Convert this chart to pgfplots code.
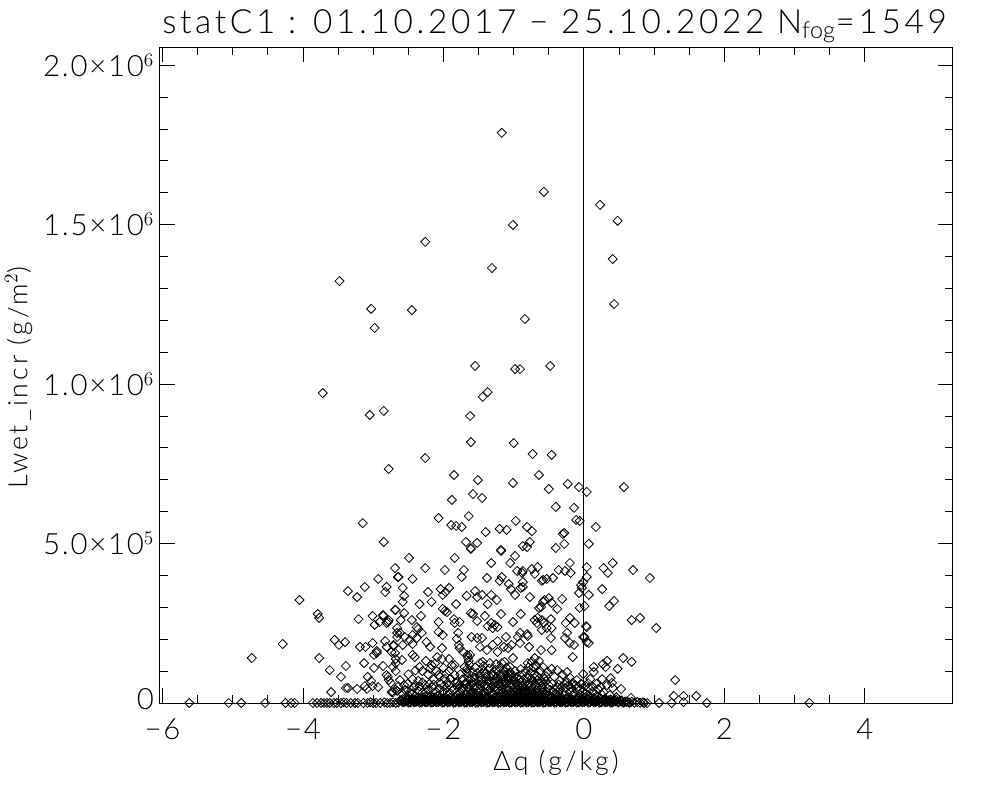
\documentclass[border=0pt]{standalone}
\usepackage{fontspec}
\setmainfont{Lato}[UprightFont=* Light,LetterSpace=6]
\newfontfamily\widefont{Lato}[UprightFont=* Light,LetterSpace=11]
\usepackage{pgfplots}
\pgfplotsset{compat=1.18}

\begin{document}
\begin{tikzpicture}
\path[use as bounding box] (-120pt,-72.75pt) rectangle (630pt,527.25pt);
\begin{axis}[
  scale only axis,
  width=594.4pt, height=491.75pt,
  xmin=-6.037, xmax=5.25,
  ymin=0, ymax=2056000,
  axis line style={line width=0.75pt},
  tick style={black,line width=0.7pt},
  major tick length=11pt,
  minor tick length=6pt,
  tick align=inside,
  xtick={-6,-4,-2,0,2,4},
  xticklabels={−6,−4,−2,0,2,4},
  minor x tick num=3,
  ytick={0,500000,1000000,1500000,2000000},
  yticklabels={\raisebox{6pt}{0},{5.0×10$^{5}$},{1.0×10$^{6}$},{1.5×10$^{6}$},{2.0×10$^{6}$}},
  minor y tick num=4,
  scaled ticks=false,
  tick label style={font=\fontsize{22}{24}\selectfont},
  xticklabel style={yshift=-8pt},
  yticklabel style={xshift=-1pt},
]
\addplot[black,line width=0.7pt] coordinates {(0,0) (0,2056000)};
\addplot[only marks,mark=square,mark size=2.4pt,mark options={rotate=45,line width=0.6pt,black}] coordinates {
(-1.82,2057e3)(-1.17,1788e3)(-0.57,1603e3)(0.23,1562e3)(0.48,1512e3)(-1.01,1499e3)(-2.26,1446e3)(0.41,1392e3)
(-1.31,1364e3)(-3.48,1323e3)(0.43,1251e3)(-3.03,1236e3)(-2.45,1232e3)(-2.98,1176e3)(-0.84,1204e3)(-1.55,1057e3)
(-0.48,1057e3)(-0.98,1047e3)(-0.91,1047e3)(-1.37,975e3)(-1.44,960e3)(-3.72,972e3)(-3.05,903e3)(-2.85,916e3)
(-1.62,900e3)(-1.61,818e3)(-1.00,815e3)(-0.73,781e3)(-0.46,778e3)(-2.26,768e3)(-2.78,734e3)(-1.85,715e3)
(-1.51,699e3)(-1.01,690e3)(-0.64,715e3)(-0.50,671e3)(-0.23,687e3)(-0.07,677e3)(0.04,662e3)(0.57,677e3)
(-1.58,655e3)(-1.45,643e3)(-1.88,637e3)(-0.40,615e3)(-0.14,612e3)(-2.07,580e3)(-1.64,586e3)(-1.89,558e3)
(-1.82,555e3)(-1.74,552e3)(-0.97,571e3)(-1.20,546e3)(-1.10,543e3)(-0.81,552e3)(-0.74,539e3)(-0.11,574e3)
(-0.06,571e3)(0.17,552e3)(-3.15,564e3)(-2.85,505e3)(-1.40,536e3)(-1.68,505e3)(-1.52,502e3)(-0.28,533e3)
(-0.30,530e3)(-0.28,499e3)(0.07,499e3)(-0.40,486e3)(-0.87,492e3)(-0.77,505e3)(-0.81,489e3)(-1.18,480e3)(-1.61,486e3)
(-2.69,423e3)(-2.65,395e3)(-2.93,389e3)(-3.12,364e3)(-3.36,351e3)(-3.23,332e3)(-2.81,364e3)(-2.83,348e3)
(-4.05,323e3)(-3.79,279e3)(-3.77,267e3)(-2.68,292e3)(-3.21,263e3)(-3.01,273e3)(-2.86,273e3)(-2.98,245e3)
(-2.91,254e3)(-2.78,260e3)(-2.81,251e3)(-2.66,235e3)(-2.66,220e3)(-2.66,207e3)(-4.29,185e3)(-4.73,141e3)
(-3.55,198e3)(-3.49,182e3)(-3.40,191e3)(-3.77,141e3)(-3.19,176e3)(-3.11,176e3)(-3.01,188e3)(-2.83,194e3)
(-2.95,163e3)(-2.95,157e3)(-2.99,151e3)(-2.81,176e3)(-2.74,160e3)(-2.71,182e3)(-3.13,125e3)(-3.62,103e3)
(-3.39,116e3)(-3.46,82e3)(-2.99,110e3)(-2.86,116e3)(-2.68,138e3)(-2.68,125e3)(-2.68,100e3)(-3.08,82e3)
(-3.03,69e3)(-2.81,88e3)(-2.79,82e3)(-2.78,72e3)(-2.75,63e3)(-3.60,34e3)(-3.39,47e3)(-3.36,47e3)(-3.23,44e3)
(-3.12,53e3)(-3.09,44e3)(-3.01,53e3)(-2.93,50e3)(-2.74,34e3)(-2.68,41e3)(-2.66,38e3)
(0.04,426e3)(0.28,423e3)(0.41,439e3)(0.34,408e3)(0.70,417e3)(0.94,392e3)(0.04,395e3)(-0.01,379e3)(-0.03,361e3)
(0.26,357e3)(0.07,339e3)(0.43,320e3)(0.36,304e3)(0.01,304e3)(0.68,260e3)(0.80,267e3)(1.03,235e3)(0.04,238e3)
(0.01,207e3)(0.07,188e3)(0.04,191e3)(0.56,141e3)(0.68,129e3)(0.33,132e3)(0.27,122e3)(0.31,113e3)(0.14,113e3)
(0.14,97e3)(0.48,107e3)(-0.01,91e3)(0.09,75e3)(0.26,75e3)(0.38,78e3)(0.40,63e3)(0.53,44e3)(0.07,47e3)(0.33,56e3)
(0.28,34e3)(0.41,47e3)(0.26,25e3)(0.37,25e3)(0.67,16e3)(1.30,72e3)(1.28,22e3)(1.42,22e3)(1.60,22e3)(1.42,3e3)
(-1.61,483e3)(-1.18,477e3)(-0.98,461e3)(-2.49,455e3)(-1.84,455e3)(-1.32,439e3)(-1.05,439e3)(-2.26,423e3)
(-1.98,417e3)(-1.71,417e3)(-0.95,414e3)(-0.88,408e3)(-0.87,414e3)(-0.74,420e3)(-0.66,426e3)(-0.70,405e3)
(-0.36,417e3)(-0.20,439e3)(-0.27,414e3)(-0.19,408e3)(-2.64,395e3)(-2.44,389e3)(-1.74,395e3)(-1.38,392e3)
(-1.17,395e3)(-1.20,383e3)(-0.87,379e3)(-0.60,383e3)(-0.58,386e3)(-0.53,389e3)(-0.44,392e3)(-1.07,373e3)
(-1.04,357e3)(-0.90,361e3)(-0.87,364e3)(-2.58,361e3)(-2.04,357e3)(-1.92,361e3)(-1.97,348e3)(-2.01,339e3)
(-2.22,348e3)(-1.55,351e3)(-1.67,336e3)(-1.52,332e3)(-1.45,339e3)(-1.32,339e3)(-0.98,339e3)(-0.77,332e3)
(-0.31,326e3)(-0.07,345e3)(-0.04,370e3)(-2.56,336e3)(-2.58,317e3)(-2.34,310e3)(-2.17,317e3)(-1.82,310e3)
(-1.37,310e3)(-1.24,323e3)(-0.50,329e3)(-0.58,317e3)(-0.56,323e3)(-0.64,298e3)(-0.61,301e3)(-0.46,314e3)
(-0.38,295e3)(-0.06,298e3)(-2.69,292e3)(-2.56,282e3)(-2.01,295e3)(-1.95,285e3)(-1.98,289e3)(-1.61,282e3)
(-1.58,279e3)(-1.18,279e3)(-0.90,279e3)(-2.32,273e3)(-2.86,276e3)(-2.79,254e3)(-2.61,260e3)(-2.45,260e3)
(-2.07,254e3)(-1.85,263e3)(-1.84,251e3)(-1.77,254e3)(-1.52,257e3)(-1.41,273e3)(-1.01,254e3)(-1.32,251e3)
(-1.27,245e3)(-1.37,241e3)(-1.23,238e3)(-1.30,235e3)(-0.66,267e3)(-0.60,260e3)(-0.70,260e3)(-0.67,251e3)
(-0.57,251e3)(-0.47,263e3)(-0.53,235e3)(-0.60,229e3)(-0.46,235e3)(-0.20,267e3)(-0.13,251e3)(-0.26,251e3)
(0.03,241e3)(-2.38,238e3)(-2.36,232e3)(-2.62,220e3)(-2.55,207e3)(-2.44,213e3)(-2.48,198e3)(-2.38,204e3)
(-2.31,220e3)(-2.07,223e3)(-2.01,213e3)(-1.79,220e3)(-0.94,207e3)(-0.80,210e3)(-0.81,216e3)(-0.91,220e3)
(-0.47,204e3)(-0.24,220e3)(-0.27,204e3)(-0.20,188e3)(-0.14,182e3)(-0.01,207e3)(-1.60,207e3)(-1.52,204e3)
(-1.45,204e3)(-1.81,201e3)(-1.78,182e3)(-1.11,207e3)(-1.23,194e3)(-1.30,182e3)(-1.14,176e3)(-1.08,172e3)
(-1.03,182e3)(-0.91,188e3)(-0.78,176e3)(-0.61,166e3)(-0.46,166e3)(-0.16,144e3)(-2.71,179e3)(-2.58,182e3)
(-2.24,191e3)(-2.19,176e3)(-2.44,185e3)(-2.02,172e3)(-1.77,172e3)(-1.72,160e3)(-1.62,151e3)(-1.65,141e3)
(-1.48,176e3)(-1.38,166e3)(-1.23,160e3)(-2.44,151e3)(-2.41,144e3)(-2.69,157e3)(-2.59,135e3)(-2.25,132e3)
(-2.17,119e3)(-2.34,113e3)(-2.72,113e3)(-2.09,144e3)(-2.02,138e3)(-1.92,138e3)(-1.84,119e3)(-1.70,113e3)
(-1.67,97e3)(-1.48,125e3)(-1.44,129e3)(-1.34,125e3)(-1.17,125e3)(-1.13,129e3)(-1.01,141e3)(-1.20,110e3)
(-1.10,110e3)(-1.05,113e3)(-0.70,141e3)(-0.74,129e3)(-0.80,125e3)(-0.46,107e3)(-0.38,103e3)(-0.24,97e3)
(-2.62,72e3)(-2.51,60e3)(-2.44,75e3)(-2.72,34e3)(-2.26,56e3)(-2.05,82e3)(-1.94,63e3)(-1.84,88e3)(-1.67,63e3)
(-1.65,82e3)(-1.48,82e3)(-1.34,82e3)(-1.24,82e3)(-1.17,63e3)(-1.27,41e3)(-1.01,72e3)(-0.81,82e3)(-0.70,78e3)
(-0.66,72e3)(-0.60,66e3)(-0.48,41e3)(-0.38,50e3)(-0.24,66e3)(-0.16,63e3)(-0.06,41e3)(-0.10,72e3)
(-1.66,150e3)(-1.64,132e3)(-1.63,120e3)(-1.66,108e3)(-1.64,92e3)(-1.62,74e3)(-1.60,60e3)(-1.58,97e3)(-1.55,112e3)
(-1.52,94e3)(-1.50,70e3)(-1.45,60e3)(-1.42,100e3)(-1.39,84e3)(-1.36,68e3)(-1.31,92e3)(-1.28,72e3)(-1.26,104e3)
(-1.22,58e3)(-1.19,90e3)(-1.15,76e3)(-1.12,62e3)(-1.08,94e3)(-1.06,78e3)(-1.03,86e3)(-0.98,100e3)(-0.96,62e3)
(-0.92,72e3)(-0.88,90e3)(-0.85,60e3)(-0.76,96e3)(-0.72,112e3)(-0.68,118e3)(-0.64,132e3)(-0.56,76e3)(-0.52,98e3)
(-0.42,82e3)(-0.34,70e3)(-0.30,88e3)(-0.20,80e3)(-2.30,100e3)(-2.22,90e3)(-2.14,74e3)(-2.10,100e3)(-2.00,110e3)
(-1.96,92e3)(-1.90,76e3)(-1.80,66e3)(-1.76,90e3)(-1.73,74e3)(-2.50,90e3)(-2.40,102e3)(-2.36,70e3)(-2.54,40e3)
(-2.48,34e3)(-2.42,48e3)(-2.36,38e3)(-2.30,32e3)(-2.22,42e3)(-2.16,50e3)(-2.12,30e3)(-2.06,44e3)(-2.00,36e3)
(-1.96,48e3)(-1.90,30e3)(-1.86,42e3)(-1.80,50e3)(-1.76,34e3)(-1.72,46e3)(-1.68,30e3)(-1.64,42e3)(-1.60,34e3)
(-1.56,48e3)(-1.52,36e3)(-1.48,44e3)(-1.44,30e3)(-1.40,50e3)(-1.36,38e3)(-1.33,46e3)(-1.30,30e3)(-1.26,52e3)
(-1.23,44e3)(-1.20,36e3)(-1.16,48e3)(-1.13,30e3)(-1.10,50e3)(-1.07,40e3)(-1.04,56e3)(-1.01,32e3)(-0.98,48e3)
(-0.95,38e3)(-0.92,52e3)(-0.89,30e3)(-0.86,44e3)(-0.83,36e3)(-0.80,52e3)(-0.77,34e3)(-0.74,46e3)(-0.71,30e3)
(-0.68,42e3)(-0.64,34e3)(-0.60,48e3)(-0.56,30e3)(-0.52,46e3)(-0.44,34e3)(-0.40,30e3)(-0.34,42e3)(-0.30,32e3)
(-0.26,46e3)(-0.20,36e3)(-0.14,30e3)(-0.10,44e3)(-0.02,36e3)(0.03,30e3)(0.12,36e3)(0.20,44e3)(0.16,28e3)
(-1.30,26e3)(-1.24,20e3)(-1.18,28e3)(-1.12,22e3)(-1.06,26e3)(-1.00,18e3)(-0.96,28e3)(-0.90,22e3)(-0.86,26e3)
(-0.82,32e3)(-0.78,24e3)(-0.74,20e3)(-0.70,26e3)(-1.80,24e3)(-1.74,18e3)(-1.68,26e3)(-1.62,20e3)(-1.56,24e3)
(-1.50,18e3)(-1.44,26e3)(-1.38,20e3)(-2.40,22e3)(-2.32,16e3)(-2.24,24e3)(-2.16,18e3)(-2.08,22e3)(-2.00,16e3)
(-1.94,24e3)(-1.88,18e3)(-0.64,24e3)(-0.58,18e3)(-0.52,24e3)(-0.46,18e3)(-0.40,24e3)(-0.34,18e3)(-0.28,24e3)
(-0.22,18e3)(-0.16,24e3)(-0.10,18e3)(-0.04,24e3)(0.02,18e3)(0.08,22e3)(0.14,16e3)(0.20,20e3)(0.30,14e3)(0.46,18e3)
(-2.60,10e3)(-2.56,5e3)(-2.52,9e3)(-2.48,4e3)(-2.44,10e3)(-2.40,5e3)(-2.36,9e3)(-2.32,4e3)(-2.28,10e3)(-2.24,5e3)
(-2.20,9e3)(-2.16,4e3)(-2.12,10e3)(-2.08,5e3)(-2.04,9e3)(-2.00,4e3)(-1.96,10e3)(-1.92,5e3)(-1.88,9e3)(-1.84,4e3)
(-1.80,10e3)(-1.76,5e3)(-1.72,9e3)(-1.68,4e3)(-1.64,10e3)(-1.60,5e3)(-1.56,9e3)(-1.52,4e3)(-1.48,10e3)(-1.44,5e3)
(-1.40,9e3)(-1.36,4e3)(-1.32,10e3)(-1.28,5e3)(-1.24,9e3)(-1.20,4e3)(-1.16,10e3)(-1.12,5e3)(-1.08,9e3)(-1.04,4e3)
(-1.00,10e3)(-0.96,5e3)(-0.92,9e3)(-0.88,4e3)(-0.84,10e3)(-0.80,5e3)(-0.76,9e3)(-0.72,4e3)(-0.68,10e3)(-0.64,5e3)
(-0.60,9e3)(-0.56,4e3)(-0.52,10e3)(-0.48,5e3)(-0.44,9e3)(-0.40,4e3)(-0.36,10e3)(-0.32,5e3)(-0.28,9e3)(-0.24,4e3)
(-0.20,10e3)(-0.16,5e3)(-0.12,9e3)(-0.08,4e3)(-0.04,10e3)(0.00,5e3)(0.04,9e3)(0.08,4e3)(0.12,10e3)(0.16,5e3)
(0.20,9e3)(0.24,4e3)(0.28,10e3)(0.32,5e3)(0.36,9e3)(0.40,4e3)(0.44,8e3)(0.48,3e3)(0.52,7e3)(0.56,2e3)(0.60,5e3)
(0.64,2e3)(0.68,4e3)(0.72,1e3)(0.76,3e3)(0.80,1e3)(0.84,2e3)(0.86,0)(0.90,0)
(-2.58,2e3)(-2.50,1e3)(-2.42,2e3)(-2.34,1e3)(-2.26,2e3)(-2.18,1e3)(-2.10,2e3)(-2.02,1e3)(-1.94,2e3)(-1.86,1e3)
(-1.78,2e3)(-1.70,1e3)(-1.62,2e3)(-1.54,1e3)(-1.46,2e3)(-1.38,1e3)(-1.30,2e3)(-1.22,1e3)(-1.14,2e3)(-1.06,1e3)
(-0.98,2e3)(-0.90,1e3)(-0.82,2e3)(-0.74,1e3)(-0.66,2e3)(-0.58,1e3)(-0.50,2e3)(-0.42,1e3)(-0.34,2e3)(-0.26,1e3)
(-0.18,2e3)(-0.10,1e3)(-0.02,2e3)(0.06,1e3)(0.14,2e3)(0.22,1e3)(0.30,2e3)(0.38,1e3)
(-3.86,0)(-3.80,0)(-3.74,0)(-3.70,0)(-3.66,0)(-3.62,0)(-3.56,0)(-3.52,0)(-3.46,0)(-3.42,2e3)(-3.38,0)(-3.32,0)
(-3.26,0)(-3.22,0)(-3.14,0)(-3.08,0)(-3.04,2e3)(-3.00,0)(-2.96,0)(-2.90,0)(-2.84,2e3)(-2.80,0)(-2.76,0)(-2.72,2e3)
(-2.68,0)(-2.64,2e3)(-5.62,0)(-5.06,0)(-4.88,0)(-4.54,0)(-4.25,0)(-4.17,0)(-4.12,0)(1.07,0)(1.25,0)(1.75,0)(3.21,0)
(-2.62,8e3)(-2.58,12e3)(-2.54,7e3)(-2.50,13e3)(-2.46,8e3)(-2.42,12e3)(-2.38,7e3)(-2.34,13e3)(-2.30,8e3)(-2.26,12e3)
(-2.22,7e3)(-2.18,13e3)(-2.14,8e3)(-2.10,12e3)(-2.06,7e3)(-2.02,13e3)(-1.98,8e3)(-1.94,12e3)(-1.90,7e3)(-1.86,13e3)
(-1.82,8e3)(-1.78,12e3)(-1.74,7e3)(-1.70,13e3)(-1.66,8e3)(-1.62,12e3)(-1.58,7e3)(-1.54,13e3)(-1.50,8e3)(-1.46,12e3)
(-1.42,7e3)(-1.38,13e3)(-1.34,8e3)(-1.30,12e3)(-1.26,7e3)(-1.22,13e3)(-1.18,8e3)(-1.14,12e3)(-1.10,7e3)(-1.06,13e3)
(-1.02,8e3)(-0.98,12e3)(-0.94,7e3)(-0.90,13e3)(-0.86,8e3)(-0.82,12e3)(-0.78,7e3)(-0.74,13e3)(-0.70,8e3)(-0.66,12e3)
(-0.62,7e3)(-0.58,13e3)(-0.54,8e3)(-0.50,12e3)(-0.46,7e3)(-0.42,13e3)(-0.38,8e3)(-0.34,12e3)(-0.30,7e3)(-0.26,13e3)
(-0.22,8e3)(-0.18,12e3)(-0.14,7e3)(-0.10,13e3)(-0.06,8e3)(-0.02,12e3)(0.02,7e3)(0.06,13e3)(0.10,8e3)(0.14,12e3)
(0.18,7e3)(0.22,13e3)(0.26,8e3)(0.30,11e3)(0.34,7e3)(0.38,11e3)(0.42,6e3)(0.46,10e3)(0.50,5e3)(0.54,8e3)(0.58,4e3)
(-1.15,34e3)(-1.11,28e3)(-1.09,22e3)(-1.05,34e3)(-1.02,24e3)(-0.99,36e3)(-0.97,20e3)(-0.94,32e3)(-0.93,44e3)(-0.91,26e3)
(-0.88,38e3)(-0.87,18e3)(-0.85,30e3)(-0.84,48e3)(-0.81,40e3)(-0.80,20e3)(-0.79,28e3)(-0.76,38e3)(-0.75,54e3)(-0.73,26e3)
(-0.72,18e3)(-0.69,34e3)(-0.67,22e3)(-0.66,46e3)(-0.63,28e3)(-0.62,18e3)(-0.59,38e3)(-0.57,24e3)(-0.54,36e3)(-0.50,24e3)
(-1.92,56e3)(-1.88,48e3)(-1.83,64e3)(-1.78,56e3)(-1.74,44e3)(-1.70,60e3)(-1.66,50e3)(-1.62,56e3)(-1.57,64e3)(-1.53,52e3)
(-1.49,58e3)(-1.46,72e3)(-1.41,56e3)(-1.37,52e3)(-1.34,62e3)(-1.30,54e3)(-1.27,66e3)(-1.22,72e3)(-1.18,52e3)(-1.14,66e3)
(-1.10,60e3)(-1.07,68e3)(-1.04,64e3)(-0.99,72e3)(-0.94,56e3)(-0.90,64e3)(-0.87,54e3)(-0.82,68e3)(-0.78,60e3)(-0.73,66e3)
(-0.69,56e3)(-0.65,62e3)(-0.58,58e3)(-0.54,68e3)(-0.50,56e3)(-0.45,60e3)(-0.40,44e3)(-0.36,58e3)(-0.32,50e3)(-0.28,60e3)
(-0.22,54e3)(-0.18,48e3)(-0.12,56e3)(-0.08,52e3)(-0.04,60e3)(0.02,54e3)(0.06,62e3)(0.12,52e3)(0.18,60e3)(0.24,50e3)
(-2.44,30e3)(-2.40,56e3)(-2.34,52e3)(-2.30,64e3)(-2.25,34e3)(-2.20,60e3)(-2.14,58e3)(-2.10,34e3)(-2.04,60e3)(-1.99,54e3)
(-2.58,28e3)(-2.64,52e3)(-2.56,56e3)(-2.50,24e3)(-1.62,28e3)(-1.58,32e3)(-1.54,28e3)(-1.50,32e3)(-1.46,28e3)(-1.42,34e3)
(-1.56,80e3)(-1.47,90e3)(-1.43,116e3)(-1.40,92e3)(-1.35,108e3)(-1.29,86e3)(-1.25,122e3)(-1.21,100e3)(-1.18,84e3)(-1.13,98e3)
(-1.09,82e3)(-1.05,96e3)(-1.00,84e3)(-0.95,82e3)(-0.90,106e3)(-0.86,74e3)(-0.83,98e3)(-0.79,112e3)(-0.75,76e3)(-0.71,90e3)
(-0.67,86e3)(-0.62,100e3)(-0.58,112e3)(-0.54,84e3)(-2.19,108e3)(-2.12,124e3)(-2.07,88e3)(-1.98,76e3)(-1.92,100e3)(-1.88,118e3)
(-2.59,6e3)(-2.55,3e3)(-2.51,7e3)(-2.47,2e3)(-2.43,6e3)(-2.39,3e3)(-2.35,7e3)(-2.31,2e3)(-2.27,6e3)(-2.23,3e3)
(-2.19,7e3)(-2.15,2e3)(-2.11,6e3)(-2.07,3e3)(-2.03,7e3)(-1.99,2e3)(-1.95,6e3)(-1.91,3e3)(-1.87,7e3)(-1.83,2e3)
(-1.79,6e3)(-1.75,3e3)(-1.71,7e3)(-1.67,2e3)(-1.63,6e3)(-1.59,3e3)(-1.55,7e3)(-1.51,2e3)(-1.47,6e3)(-1.43,3e3)
(-1.39,7e3)(-1.35,2e3)(-1.31,6e3)(-1.27,3e3)(-1.23,7e3)(-1.19,2e3)(-1.15,6e3)(-1.11,3e3)(-1.07,7e3)(-1.03,2e3)
(-0.99,6e3)(-0.95,3e3)(-0.91,7e3)(-0.87,2e3)(-0.83,6e3)(-0.79,3e3)(-0.75,7e3)(-0.71,2e3)(-0.67,6e3)(-0.63,3e3)
(-0.59,7e3)(-0.55,2e3)(-0.51,6e3)(-0.47,3e3)(-0.43,7e3)(-0.39,2e3)(-0.35,6e3)(-0.31,3e3)(-0.27,7e3)(-0.23,2e3)
(-0.19,6e3)(-0.15,3e3)(-0.11,7e3)(-0.07,2e3)(-0.03,6e3)(0.01,3e3)(0.05,7e3)(0.09,2e3)(0.13,6e3)(0.17,3e3)
(0.21,7e3)(0.25,2e3)(0.29,6e3)(0.33,3e3)(0.37,6e3)(0.41,2e3)(0.45,5e3)(0.49,2e3)(0.53,4e3)(0.57,1e3)(0.61,3e3)(0.65,1e3)
(-1.21,16e3)(-1.15,18e3)(-1.09,15e3)(-1.03,17e3)(-0.99,15e3)(-0.93,17e3)(-0.88,15e3)(-0.84,18e3)(-0.79,15e3)(-0.75,17e3)
(-0.71,15e3)(-0.66,17e3)(-0.61,15e3)(-0.55,16e3)(-0.49,15e3)(-0.43,16e3)(-0.37,15e3)(-0.31,16e3)(-0.25,15e3)(-0.19,16e3)
(-2.36,17e3)(-2.28,18e3)(-2.20,16e3)(-2.12,18e3)(-2.04,16e3)(-1.97,18e3)(-1.91,16e3)(-1.84,18e3)(-1.78,16e3)(-1.71,18e3)
(-1.65,16e3)(-1.59,18e3)(-1.53,16e3)(-1.47,18e3)(-1.41,16e3)(-1.35,18e3)(-1.27,16e3)
};
\end{axis}
\path (296pt,502pt) node[anchor=base] {\fontsize{25}{26}\widefont statC1 : 01.10.2017 − 25.10.2022 N$_{\mathrm{fog}}$=1549};
\path (297pt,-45pt) node {\fontsize{20}{24}\widefont Δq (g/kg)};
\path (-106pt,244pt) node[rotate=90] {\fontsize{20}{24}\widefont Lwet\_incr (g/m$^{2}$)};
\end{tikzpicture}
\end{document}
